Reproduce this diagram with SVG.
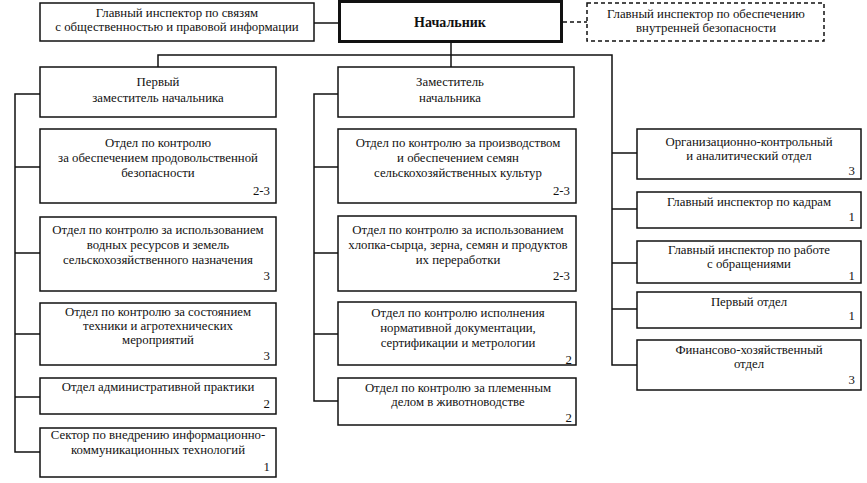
<svg xmlns="http://www.w3.org/2000/svg" width="867" height="483" viewBox="0 0 867 483">
<style>
rect{fill:#fff;stroke:#111;stroke-width:1.5}
rect.chief{stroke-width:3}
rect.dash{stroke-dasharray:4,3}
text{font-family:"Liberation Serif","Times New Roman",serif;font-size:12.8px;fill:#111;text-anchor:middle}
text.n{text-anchor:end}
text.b{font-weight:bold;font-size:14px}
.c path,.c line{fill:none;stroke:#111;stroke-width:1.5}
.c .d{stroke-dasharray:4,3}
</style>
<rect x="0" y="0" width="867" height="483" style="fill:#fff;stroke:none"/>
<g class="c">
<line x1="314" y1="23" x2="338" y2="23"/>
<line class="d" x1="563" y1="22" x2="587" y2="22"/>
<path d="M451 43V55M158 67V55H612V365H637"/>
<line x1="451" y1="55" x2="451" y2="67"/>
<path d="M40 94H15V452H40M15 167H40M15 253H40M15 334H40M15 397H40"/>
<path d="M338 94H314V401H338M314 167H338M314 253H338M314 334H338"/>
<path d="M612 153H637M612 209H637M612 263H637M612 309H637"/>
</g>
<g id="n_svyazi"><rect x="40" y="3" width="274" height="38"/><text x="177" y="16.5">Главный инспектор по связям</text><text x="177" y="30.5">с общественностью и правовой информации</text></g>
<g id="n_chief"><rect class="chief" x="339.5" y="1.5" width="222" height="40"/><text class="b" x="450" y="27">Начальник</text></g>
<g id="n_bezop"><rect class="dash" x="587" y="3" width="237" height="38"/><text x="706" y="18">Главный инспектор по обеспечению</text><text x="706" y="32">внутренней безопасности</text></g>
<g id="n_dep1"><rect x="40" y="67" width="236" height="50"/><text x="158" y="86">Первый</text><text x="158" y="102">заместитель начальника</text></g>
<g id="n_dep2"><rect x="338" y="67" width="236" height="50"/><text x="450" y="86">Заместитель</text><text x="450" y="102">начальника</text></g>
<g id="n_l1"><rect x="40" y="129" width="236" height="74"/><text x="158" y="147">Отдел по контролю</text><text x="158" y="162">за обеспечением продовольственной</text><text x="158" y="177">безопасности</text><text class="n" x="270" y="195">2-3</text></g>
<g id="n_l2"><rect x="40" y="217" width="236" height="74"/><text x="158" y="234">Отдел по контролю за использованием</text><text x="158" y="249">водных ресурсов и земель</text><text x="158" y="264">сельскохозяйственного назначения</text><text class="n" x="270" y="280">3</text></g>
<g id="n_l3"><rect x="40" y="303" width="236" height="62"/><text x="158" y="316">Отдел по контролю за состоянием</text><text x="158" y="330">техники и агротехнических</text><text x="158" y="344">мероприятий</text><text class="n" x="270" y="360">3</text></g>
<g id="n_l4"><rect x="40" y="378" width="236" height="36"/><text x="158" y="391">Отдел административной практики</text><text class="n" x="270" y="408">2</text></g>
<g id="n_l5"><rect x="40" y="428" width="236" height="49"/><text x="158" y="439">Сектор по внедрению информационно-</text><text x="158" y="454">коммуникационных технологий</text><text class="n" x="270" y="471">1</text></g>
<g id="n_m1"><rect x="338" y="129" width="238" height="74"/><text x="458" y="147">Отдел по контролю за производством</text><text x="458" y="162">и обеспечением семян</text><text x="458" y="177">сельскохозяйственных культур</text><text class="n" x="570" y="195">2-3</text></g>
<g id="n_m2"><rect x="338" y="216" width="238" height="75"/><text x="458" y="234">Отдел по контролю за использованием</text><text x="458" y="249">хлопка-сырца, зерна, семян и продуктов</text><text x="458" y="264">их переработки</text><text class="n" x="570" y="280">2-3</text></g>
<g id="n_m3"><rect x="338" y="302" width="238" height="63"/><text x="458" y="317">Отдел по контролю исполнения</text><text x="458" y="332">нормативной документации,</text><text x="458" y="347">сертификации и метрологии</text><text class="n" x="572" y="364">2</text></g>
<g id="n_m4"><rect x="338" y="378" width="238" height="47"/><text x="458" y="392">Отдел по контролю за племенным</text><text x="458" y="406">делом в животноводстве</text><text class="n" x="572" y="422">2</text></g>
<g id="n_r1"><rect x="637" y="129" width="224" height="50"/><text x="749" y="146">Организационно-контрольный</text><text x="749" y="160">и аналитический отдел</text><text class="n" x="855" y="175">3</text></g>
<g id="n_r2"><rect x="637" y="192" width="224" height="36"/><text x="749" y="206">Главный инспектор по кадрам</text><text class="n" x="855" y="221">1</text></g>
<g id="n_r3"><rect x="637" y="241" width="224" height="42"/><text x="749" y="254">Главный инспектор по работе</text><text x="749" y="268">с обращениями</text><text class="n" x="855" y="280">1</text></g>
<g id="n_r4"><rect x="637" y="292" width="224" height="36"/><text x="749" y="306">Первый отдел</text><text class="n" x="855" y="320">1</text></g>
<g id="n_r5"><rect x="637" y="340" width="224" height="50"/><text x="749" y="354">Финансово-хозяйственный</text><text x="749" y="368">отдел</text><text class="n" x="855" y="384">3</text></g>
</svg>
